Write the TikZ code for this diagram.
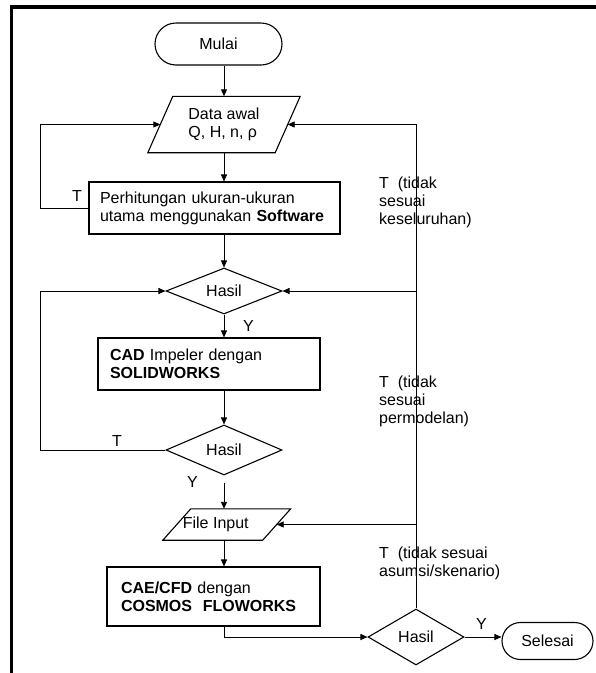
\documentclass[tikz,border=0pt]{standalone}
\usepackage{fontspec}
\setmainfont{Liberation Sans}
\usetikzlibrary{shapes.geometric,shapes.misc,arrows.meta,calc}
\begin{document}
\begin{tikzpicture}[x=1pt,y=-1pt,
  every node/.style={font=\fontsize{16}{18}\selectfont},
  arr/.style={line width=0.9pt,-{Triangle[length=7pt,width=6pt]}},
  shp/.style={draw,line width=1.1pt},
  term/.style={shp,rounded rectangle,inner sep=0pt},
  proc/.style={shp,rectangle,align=left,inner ysep=0pt},
  dec/.style={shp,diamond,aspect=2.5,inner sep=0pt},
  io/.style={rectangle,inner sep=0pt,align=left},
  lab/.style={inner sep=0pt,align=left,anchor=north west}]

\useasboundingbox (0,0) rectangle (596,673);
\draw[line width=3.5pt] (11.7,673) -- (11.7,7) -- (596,7);

% nodes
\node[term,minimum width=127pt,minimum height=42pt] (mulai) at (218.5,44) {Mulai};
\node[io,minimum width=127pt,minimum height=56pt] (data) at (224,124.5) {Data awal\hspace{9pt}\\Q, H, n, ρ};
\draw[shp] ($(data.north west)+(12.5,0)$) -- ($(data.north east)+(12.5,0)$) -- ($(data.south east)+(-12.5,0)$) -- ($(data.south west)+(-12.5,0)$) -- cycle;
\node[proc,minimum width=251pt,minimum height=52pt,text width=229pt,inner xsep=11pt] (perh) at (214.5,208) {Perhitungan ukuran-ukuran\\utama menggunakan \textbf{Software}};
\node[dec,minimum width=116pt,minimum height=46pt] (h1) at (224,291) {Hasil};
\node[proc,minimum width=222pt,minimum height=52pt,text width=198pt,inner xsep=12pt] (cad) at (209,364) {\textbf{CAD} Impeler dengan\\\textbf{SOLIDWORKS}};
\node[dec,minimum width=116pt,minimum height=50pt] (h2) at (224,450) {Hasil};
\node[io,minimum width=99.5pt,minimum height=31pt] (file) at (226.75,524.5) {File Input\hspace{22pt}};
\draw[shp] ($(file.north west)+(14,0)$) -- ($(file.north east)+(14,0)$) -- ($(file.south east)+(-14,0)$) -- ($(file.south west)+(-14,0)$) -- cycle;
\node[proc,minimum width=213pt,minimum height=59pt,text width=185pt,inner xsep=14pt] (cae) at (213.5,596.5) {\textbf{CAE/CFD} dengan\\\textbf{COSMOS\ \ FLOWORKS}};
\node[dec,minimum width=96pt,minimum height=56pt] (h3) at (416,637) {Hasil};
\node[term,minimum width=91pt,minimum height=37pt] (selesai) at (547.5,641) {Selesai};

% labels
\node[lab] (t1) at (72,190.5) {T};
\node[lab] (y1) at (243,320.5) {Y};
\node[lab] (t2) at (112,435) {T};
\node[lab] (y2) at (187,476.5) {Y};
\node[lab] (y3) at (476,618) {Y};
\node[lab] (l1) at (379,176.5) {T\ \ (tidak\\sesuai\\keseluruhan)};
\node[lab] (l2) at (379,375.5) {T\ \ (tidak\\sesuai\\permodelan)};
\node[lab] (l3) at (379,546.5) {T\ \ (tidak sesuai\\asumsi/skenario)};

% connectors
\draw[arr] (mulai.south -| data.north) -- (data.north);
\draw[arr] (data.south) -- (data.south |- perh.north);
\draw[arr] (data.south |- perh.south) -- (h1.north);
\draw[arr] (h1.south) -- (h1.south |- cad.north);
\draw[arr] (h1.south |- cad.south) -- (h2.north);
\draw[arr,shorten <=7pt] (h2.south) -- (h2.south |- file.north);
\draw[arr] (h2.south |- file.south) -- (h2.south |- cae.north);
\draw[arr] (h2.south |- cae.south) -- (h2.south |- h3.west) -- (h3.west);
\draw[arr] (h3.east) -- (h3.east -| selesai.west);
\draw[arr] (h3.north) -- (h3.north |- data.east) -- (data.east);
\draw[arr] (h3.north |- h1.east) -- (h1.east);
\draw[arr] (h3.north |- file.east) -- (file.east);
\draw[arr] (perh.west) -- ++(-48,0) |- (data.west);
\draw[arr] (h2.west) -- ++(-125,0) |- (h1.west);
\end{tikzpicture}
\end{document}
